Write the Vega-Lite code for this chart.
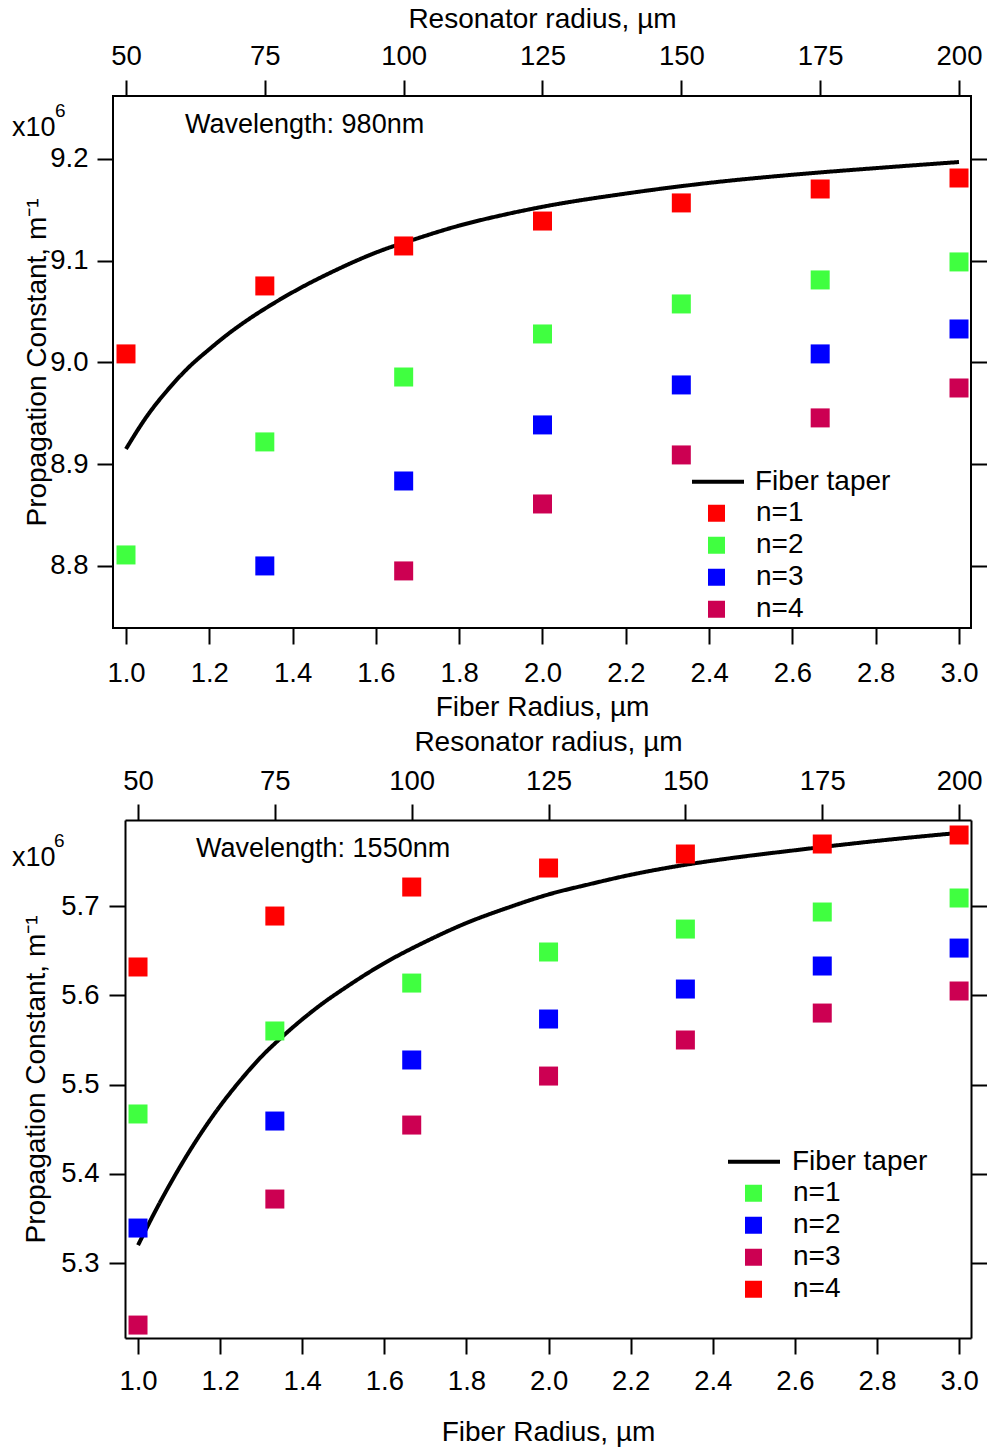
{
  "$schema": "https://vega.github.io/schema/vega-lite/v6.json",
  "padding": {"left": 10, "top": 4, "right": 0, "bottom": 0},
  "spacing": 5,
  "resolve": {"scale": {"color": "independent", "strokeDash": "independent", "x": "independent", "y": "independent"}, "legend": {"color": "independent", "strokeDash": "independent"}},
  "config": {
    "font": "Liberation Sans",
    "view": {"stroke": "black", "strokeWidth": 2},
    "axis": {"grid": false, "domain": false, "domainColor": "black", "domainWidth": 2, "tickColor": "black", "tickWidth": 2, "tickSize": 16, "labelColor": "black", "titleColor": "black", "labelFont": "Liberation Sans", "titleFont": "Liberation Sans", "labelFontSize": 27.5, "titleFontSize": 28, "titleFontWeight": "normal", "labelOverlap": false, "labelFlush": false},
    "legend": {"labelFont": "Liberation Sans", "labelFontSize": 28, "labelColor": "black", "padding": 0, "rowPadding": 0, "clipHeight": 31.5, "symbolOpacity": 1}
  },
  "vconcat": [
    {
      "width": 858,
      "height": 532,
      "data": {"values": [
        {"r": 1.0, "beta": 8.915, "series": "Fiber taper"},
        {"r": 1.05, "beta": 8.947, "series": "Fiber taper"},
        {"r": 1.1, "beta": 8.973, "series": "Fiber taper"},
        {"r": 1.15, "beta": 8.995, "series": "Fiber taper"},
        {"r": 1.2, "beta": 9.013, "series": "Fiber taper"},
        {"r": 1.25, "beta": 9.0295, "series": "Fiber taper"},
        {"r": 1.3, "beta": 9.044, "series": "Fiber taper"},
        {"r": 1.35, "beta": 9.057, "series": "Fiber taper"},
        {"r": 1.4, "beta": 9.069, "series": "Fiber taper"},
        {"r": 1.5, "beta": 9.090, "series": "Fiber taper"},
        {"r": 1.6, "beta": 9.108, "series": "Fiber taper"},
        {"r": 1.7, "beta": 9.122, "series": "Fiber taper"},
        {"r": 1.8, "beta": 9.1345, "series": "Fiber taper"},
        {"r": 1.9, "beta": 9.1445, "series": "Fiber taper"},
        {"r": 2.0, "beta": 9.153, "series": "Fiber taper"},
        {"r": 2.2, "beta": 9.166, "series": "Fiber taper"},
        {"r": 2.4, "beta": 9.1765, "series": "Fiber taper"},
        {"r": 2.6, "beta": 9.1845, "series": "Fiber taper"},
        {"r": 2.8, "beta": 9.191, "series": "Fiber taper"},
        {"r": 3.0, "beta": 9.197, "series": "Fiber taper"},
        {"r": 1.0, "beta": 9.0084, "series": "n=1"},
        {"r": 1.3333, "beta": 9.0752, "series": "n=1"},
        {"r": 1.6667, "beta": 9.1145, "series": "n=1"},
        {"r": 2.0, "beta": 9.139, "series": "n=1"},
        {"r": 2.3333, "beta": 9.1568, "series": "n=1"},
        {"r": 2.6667, "beta": 9.1705, "series": "n=1"},
        {"r": 3.0, "beta": 9.1813, "series": "n=1"},
        {"r": 1.0, "beta": 8.8108, "series": "n=2"},
        {"r": 1.3333, "beta": 8.9219, "series": "n=2"},
        {"r": 1.6667, "beta": 8.9857, "series": "n=2"},
        {"r": 2.0, "beta": 9.028, "series": "n=2"},
        {"r": 2.3333, "beta": 9.0575, "series": "n=2"},
        {"r": 2.6667, "beta": 9.0811, "series": "n=2"},
        {"r": 3.0, "beta": 9.0988, "series": "n=2"},
        {"r": 1.3333, "beta": 8.800, "series": "n=3"},
        {"r": 1.6667, "beta": 8.8835, "series": "n=3"},
        {"r": 2.0, "beta": 8.9386, "series": "n=3"},
        {"r": 2.3333, "beta": 8.9779, "series": "n=3"},
        {"r": 2.6667, "beta": 9.0084, "series": "n=3"},
        {"r": 3.0, "beta": 9.0329, "series": "n=3"},
        {"r": 1.6667, "beta": 8.7951, "series": "n=4"},
        {"r": 2.0, "beta": 8.8609, "series": "n=4"},
        {"r": 2.3333, "beta": 8.9091, "series": "n=4"},
        {"r": 2.6667, "beta": 8.9455, "series": "n=4"},
        {"r": 3.0, "beta": 8.9749, "series": "n=4"}
      ]},
      "layer": [
        {
          "transform": [{"filter": "datum.series === 'Fiber taper'"}],
          "mark": {"type": "line", "strokeWidth": 4, "interpolate": "monotone", "color": "black"},
          "encoding": {
            "x": {"field": "r", "type": "quantitative", "scale": {"domain": [0.9688, 3.0288], "nice": false, "zero": false},
                  "axis": {"orient": "bottom", "title": "Fiber Radius, µm", "values": [1, 1.2, 1.4, 1.6, 1.8, 2, 2.2, 2.4, 2.6, 2.8, 3], "format": ".1f", "labelPadding": 15, "titlePadding": 7}},
            "y": {"field": "beta", "type": "quantitative", "scale": {"domain": [8.739, 9.2619], "nice": false, "zero": false},
                  "axis": {"orient": "left", "title": "Propagation Constant, m⁻¹", "values": [8.8, 8.9, 9.0, 9.1, 9.2], "format": ".1f", "labelPadding": 9, "titlePadding": -2}},
            "strokeDash": {"field": "series", "type": "nominal", "scale": {"domain": ["Fiber taper"], "range": [[1, 0]]},
                           "legend": {"title": null, "orient": "none", "legendX": 577, "legendY": 370, "symbolType": "stroke", "symbolSize": 2704, "symbolStrokeWidth": 4, "symbolStrokeColor": "black", "labelOffset": 9}}
          }
        },
        {
          "transform": [{"filter": "datum.series !== 'Fiber taper'"}],
          "mark": {"type": "point", "shape": "square", "filled": true, "size": 361, "opacity": 1, "strokeWidth": 0},
          "encoding": {
            "x": {"field": "r", "type": "quantitative", "scale": {"domain": [0.9688, 3.0288], "nice": false, "zero": false},
                  "axis": {"orient": "top", "title": "Resonator radius, µm", "values": [1, 1.333333, 1.666667, 2, 2.333333, 2.666667, 3], "labelExpr": "round(datum.value*75-25)", "labelPadding": 10, "titlePadding": 9}},
            "y": {"field": "beta", "type": "quantitative", "scale": {"domain": [8.739, 9.2619], "nice": false, "zero": false},
                  "axis": {"orient": "right", "title": null, "labels": false, "values": [8.8, 8.9, 9.0, 9.1, 9.2]}},
            "color": {"field": "series", "type": "nominal",
                      "scale": {"domain": ["n=1", "n=2", "n=3", "n=4"], "range": ["#FF0000", "#40FF40", "#0000FF", "#CC0052"]},
                      "legend": {"title": null, "orient": "none", "legendX": 589.5, "legendY": 401.5, "symbolType": "square", "symbolSize": 289, "labelOffset": 25.5}}
          }
        },
        {
          "data": {"values": [
            {"r": 0.7263, "beta": 9.2302, "label": "x10"},
            {"r": 1.1417, "beta": 9.2334, "label": "Wavelength: 980nm"}
          ]},
          "mark": {"type": "text", "align": "left", "baseline": "middle", "fontSize": 27, "font": "Liberation Sans", "color": "black"},
          "encoding": {
            "x": {"field": "r", "type": "quantitative", "scale": {"domain": [0.9688, 3.0288], "nice": false, "zero": false}, "axis": null},
            "y": {"field": "beta", "type": "quantitative", "scale": {"domain": [8.739, 9.2619], "nice": false, "zero": false}, "axis": null},
            "text": {"field": "label", "type": "nominal"}
          }
        },
        {
          "data": {"values": [
            {"r": 0.8295, "beta": 9.2474, "label": "6"}
          ]},
          "mark": {"type": "text", "align": "left", "baseline": "middle", "fontSize": 19, "font": "Liberation Sans", "color": "black"},
          "encoding": {
            "x": {"field": "r", "type": "quantitative", "scale": {"domain": [0.9688, 3.0288], "nice": false, "zero": false}, "axis": null},
            "y": {"field": "beta", "type": "quantitative", "scale": {"domain": [8.739, 9.2619], "nice": false, "zero": false}, "axis": null},
            "text": {"field": "label", "type": "nominal"}
          }
        }
      ],
      "resolve": {"axis": {"x": "independent", "y": "independent"}}
    },
    {
      "width": 858,
      "height": 518,
      "view": {"stroke": null},
      "data": {"values": [
        {"r": 1.0, "beta": 5.320, "series": "Fiber taper"},
        {"r": 1.05, "beta": 5.365, "series": "Fiber taper"},
        {"r": 1.1, "beta": 5.406, "series": "Fiber taper"},
        {"r": 1.15, "beta": 5.443, "series": "Fiber taper"},
        {"r": 1.2, "beta": 5.476, "series": "Fiber taper"},
        {"r": 1.25, "beta": 5.505, "series": "Fiber taper"},
        {"r": 1.3, "beta": 5.531, "series": "Fiber taper"},
        {"r": 1.35, "beta": 5.553, "series": "Fiber taper"},
        {"r": 1.4, "beta": 5.573, "series": "Fiber taper"},
        {"r": 1.45, "beta": 5.591, "series": "Fiber taper"},
        {"r": 1.5, "beta": 5.607, "series": "Fiber taper"},
        {"r": 1.6, "beta": 5.636, "series": "Fiber taper"},
        {"r": 1.7, "beta": 5.660, "series": "Fiber taper"},
        {"r": 1.8, "beta": 5.681, "series": "Fiber taper"},
        {"r": 1.9, "beta": 5.698, "series": "Fiber taper"},
        {"r": 2.0, "beta": 5.713, "series": "Fiber taper"},
        {"r": 2.1, "beta": 5.7245, "series": "Fiber taper"},
        {"r": 2.2, "beta": 5.735, "series": "Fiber taper"},
        {"r": 2.33, "beta": 5.746, "series": "Fiber taper"},
        {"r": 2.45, "beta": 5.754, "series": "Fiber taper"},
        {"r": 2.6, "beta": 5.7625, "series": "Fiber taper"},
        {"r": 2.8, "beta": 5.773, "series": "Fiber taper"},
        {"r": 3.0, "beta": 5.782, "series": "Fiber taper"},
        {"r": 1.0, "beta": 5.467, "series": "n=1"},
        {"r": 1.3333, "beta": 5.56, "series": "n=1"},
        {"r": 1.6667, "beta": 5.6137, "series": "n=1"},
        {"r": 2.0, "beta": 5.6485, "series": "n=1"},
        {"r": 2.3333, "beta": 5.6742, "series": "n=1"},
        {"r": 2.6667, "beta": 5.6933, "series": "n=1"},
        {"r": 3.0, "beta": 5.709, "series": "n=1"},
        {"r": 1.0, "beta": 5.3392, "series": "n=2"},
        {"r": 1.3333, "beta": 5.4591, "series": "n=2"},
        {"r": 1.6667, "beta": 5.5275, "series": "n=2"},
        {"r": 2.0, "beta": 5.5734, "series": "n=2"},
        {"r": 2.3333, "beta": 5.607, "series": "n=2"},
        {"r": 2.6667, "beta": 5.6328, "series": "n=2"},
        {"r": 3.0, "beta": 5.6529, "series": "n=2"},
        {"r": 1.0, "beta": 5.2305, "series": "n=3"},
        {"r": 1.3333, "beta": 5.3717, "series": "n=3"},
        {"r": 1.6667, "beta": 5.4546, "series": "n=3"},
        {"r": 2.0, "beta": 5.5095, "series": "n=3"},
        {"r": 2.3333, "beta": 5.5499, "series": "n=3"},
        {"r": 2.6667, "beta": 5.5801, "series": "n=3"},
        {"r": 3.0, "beta": 5.6048, "series": "n=3"},
        {"r": 1.0, "beta": 5.6317, "series": "n=4"},
        {"r": 1.3333, "beta": 5.6888, "series": "n=4"},
        {"r": 1.6667, "beta": 5.7213, "series": "n=4"},
        {"r": 2.0, "beta": 5.7426, "series": "n=4"},
        {"r": 2.3333, "beta": 5.7583, "series": "n=4"},
        {"r": 2.6667, "beta": 5.7695, "series": "n=4"},
        {"r": 3.0, "beta": 5.7796, "series": "n=4"}
      ]},
      "layer": [
        {
          "transform": [{"filter": "datum.series === 'Fiber taper'"}],
          "mark": {"type": "line", "strokeWidth": 4, "interpolate": "monotone", "color": "black"},
          "encoding": {
            "x": {"field": "r", "type": "quantitative", "scale": {"domain": [0.9683, 3.029], "range": [12, 858], "nice": false, "zero": false},
                  "axis": {"orient": "bottom", "domain": true, "title": "Fiber Radius, µm", "values": [1, 1.2, 1.4, 1.6, 1.8, 2, 2.2, 2.4, 2.6, 2.8, 3], "format": ".1f", "labelPadding": 13, "titlePadding": 24}},
            "y": {"field": "beta", "type": "quantitative", "scale": {"domain": [5.216, 5.7964], "nice": false, "zero": false},
                  "axis": {"orient": "left", "domain": true, "offset": -12, "title": "Propagation Constant, m⁻¹", "values": [5.3, 5.4, 5.5, 5.6, 5.7], "format": ".1f", "labelPadding": 10, "titlePadding": 10}},
            "strokeDash": {"field": "series", "type": "nominal", "scale": {"domain": ["Fiber taper"], "range": [[1, 0]]},
                           "legend": {"title": null, "orient": "none", "legendX": 613, "legendY": 326, "symbolType": "stroke", "symbolSize": 2704, "symbolStrokeWidth": 4, "symbolStrokeColor": "black", "labelOffset": 10}}
          }
        },
        {
          "transform": [{"filter": "datum.series !== 'Fiber taper'"}],
          "mark": {"type": "point", "shape": "square", "filled": true, "size": 361, "opacity": 1, "strokeWidth": 0},
          "encoding": {
            "x": {"field": "r", "type": "quantitative", "scale": {"domain": [0.9683, 3.029], "range": [12, 858], "nice": false, "zero": false},
                  "axis": {"orient": "top", "domain": true, "title": "Resonator radius, µm", "values": [1, 1.333333, 1.666667, 2, 2.333333, 2.666667, 3], "labelExpr": "round(datum.value*75-25)", "labelPadding": 9, "titlePadding": 10.5}},
            "y": {"field": "beta", "type": "quantitative", "scale": {"domain": [5.216, 5.7964], "nice": false, "zero": false},
                  "axis": {"orient": "right", "domain": true, "title": null, "labels": false, "values": [5.3, 5.4, 5.5, 5.6, 5.7]}},
            "color": {"field": "series", "type": "nominal",
                      "scale": {"domain": ["n=1", "n=2", "n=3", "n=4"], "range": ["#40FF40", "#0000FF", "#CC0052", "#FF0000"]},
                      "legend": {"title": null, "orient": "none", "legendX": 626.5, "legendY": 357.5, "symbolType": "square", "symbolSize": 289, "labelOffset": 25.5}}
          }
        },
        {
          "data": {"values": [
            {"r": 0.6931, "beta": 5.7538, "label": "x10"},
            {"r": 1.1413, "beta": 5.7639, "label": "Wavelength: 1550nm"}
          ]},
          "mark": {"type": "text", "align": "left", "baseline": "middle", "fontSize": 27, "font": "Liberation Sans", "color": "black"},
          "encoding": {
            "x": {"field": "r", "type": "quantitative", "scale": {"domain": [0.9683, 3.029], "range": [12, 858], "nice": false, "zero": false}, "axis": null},
            "y": {"field": "beta", "type": "quantitative", "scale": {"domain": [5.216, 5.7964], "nice": false, "zero": false}, "axis": null},
            "text": {"field": "label", "type": "nominal"}
          }
        },
        {
          "data": {"values": [
            {"r": 0.7954, "beta": 5.7728, "label": "6"}
          ]},
          "mark": {"type": "text", "align": "left", "baseline": "middle", "fontSize": 19, "font": "Liberation Sans", "color": "black"},
          "encoding": {
            "x": {"field": "r", "type": "quantitative", "scale": {"domain": [0.9683, 3.029], "range": [12, 858], "nice": false, "zero": false}, "axis": null},
            "y": {"field": "beta", "type": "quantitative", "scale": {"domain": [5.216, 5.7964], "nice": false, "zero": false}, "axis": null},
            "text": {"field": "label", "type": "nominal"}
          }
        }
      ],
      "resolve": {"axis": {"x": "independent", "y": "independent"}}
    }
  ]
}
